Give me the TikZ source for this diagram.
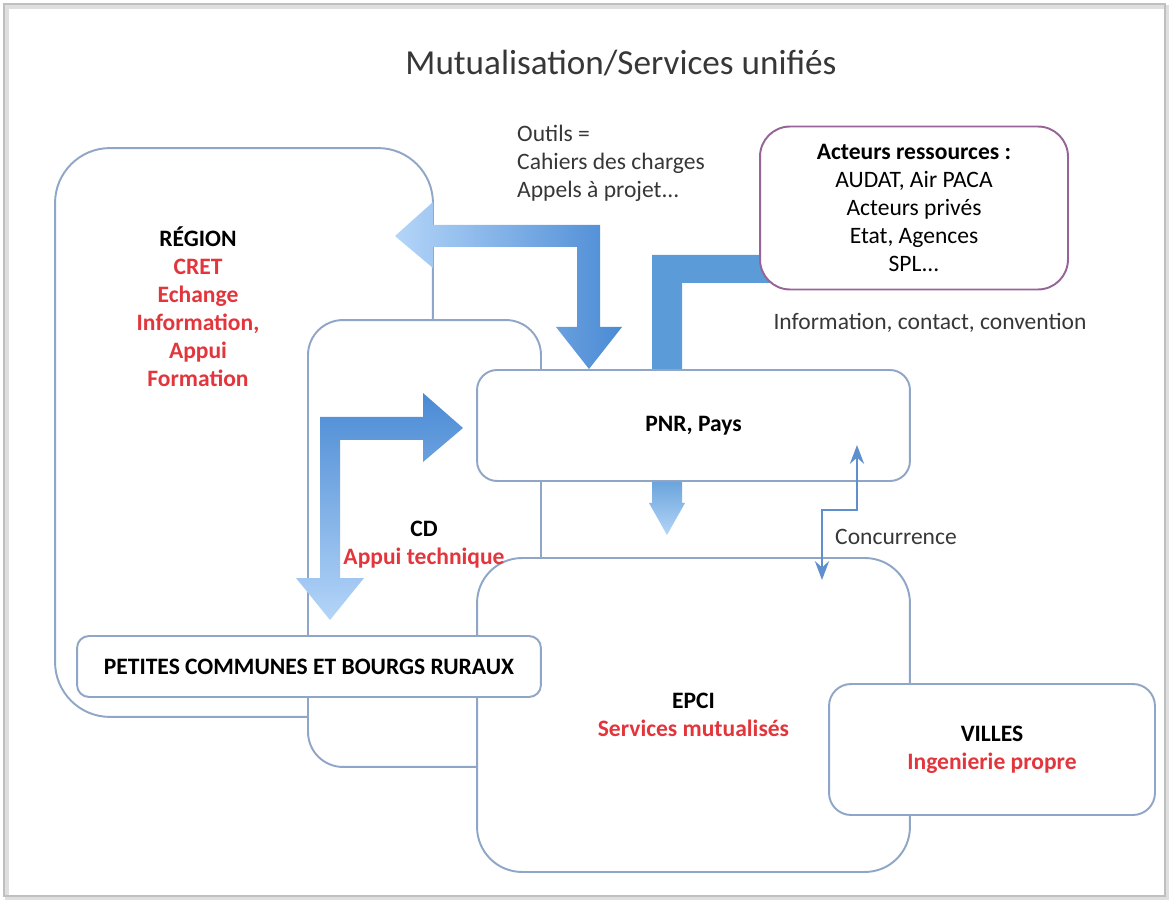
\documentclass[tikz,border=0pt]{standalone}
\usepackage{fontspec}
\setmainfont{Carlito}
\usetikzlibrary{arrows.meta,backgrounds}

\definecolor{boxline}{RGB}{143,166,198}
\definecolor{purpleline}{RGB}{150,100,150}
\definecolor{txtred}{RGB}{226,54,60}
\definecolor{txtgray}{RGB}{55,55,55}
\definecolor{blueLight}{RGB}{180,213,248}
\definecolor{blueDark}{RGB}{74,138,212}
\definecolor{blueMid}{RGB}{91,155,216}
\definecolor{blueLine}{RGB}{95,143,205}

\tikzset{
  box/.style={draw=boxline, fill=white, line width=1.1pt, inner sep=0pt, align=center},
  lbl/.style={align=center, font=\fontsize{13.4}{15.9}\selectfont},
}

\begin{document}
\begin{tikzpicture}[x=0.02cm,y=-0.02cm,>=Stealth]
  \useasboundingbox (0,0) rectangle (1171,902);
  % page frame
  \draw[gray!25, line width=2pt] (7,7) rectangle (1167,898);
  \draw[gray!50, line width=0.6pt] (4,4) rectangle (1165,896);

  \node[txtgray, font=\fontsize{20}{24}\selectfont] (title) at (621,63) {Mutualisation/Services unifiés};

  % boxes, back to front
  \node[box, rounded corners=1.1cm, minimum width=7.56cm, minimum height=11.38cm] (region) at (244,432.5) {};
  \node[box, rounded corners=0.7cm, minimum width=4.66cm, minimum height=8.94cm] (cd) at (424.5,543.5) {};
  \node[box, rounded corners=0.9cm, minimum width=8.66cm, minimum height=6.28cm, lbl] (epci) at (693.5,715) {\textbf{EPCI}\\ \textcolor{txtred}{\textbf{Services mutualisés}}};
  \node[box, rounded corners=0.24cm, minimum width=9.28cm, minimum height=1.22cm, lbl] (petites) at (309,666.5) {\textbf{PETITES COMMUNES ET BOURGS RURAUX}};
  \node[box, rounded corners=0.4cm, minimum width=8.66cm, minimum height=2.22cm, lbl] (pnr) at (693.5,425.5) {\textbf{PNR, Pays}};
  \node[box, rounded corners=0.44cm, minimum width=6.52cm, minimum height=2.62cm, lbl] (villes) at (992,749.5) {\textbf{VILLES}\\ \textcolor{txtred}{\textbf{Ingenierie propre}}};
  \node[box, draw=purpleline, rounded corners=0.6cm, minimum width=6.16cm, minimum height=3.26cm, lbl] (acteurs) at (914,208) {\textbf{Acteurs ressources :}\\ AUDAT, Air PACA\\ Acteurs privés\\ Etat, Agences\\ SPL...};

  % labels
  \node[lbl] (regionlbl) at (198,307) {\textbf{RÉGION}\\ \textcolor{txtred}{\textbf{CRET}}\\ \textcolor{txtred}{\textbf{Echange}}\\ \textcolor{txtred}{\textbf{Information,}}\\ \textcolor{txtred}{\textbf{Appui}}\\ \textcolor{txtred}{\textbf{Formation}}};
  \node[lbl] (cdlbl) at (424,545) {\textbf{CD}\\ \textcolor{txtred}{\textbf{Appui technique}}};
  \node[lbl, txtgray, align=left, anchor=west] (outils) at (511,163) {Outils =\\ Cahiers des charges\\ Appels à projet...};
  \node[lbl, txtgray] (info) at (930,323) {Information, contact, convention};
  \node[lbl, txtgray] (conc) at (896,537) {Concurrence};

  % fat arrows
  \shade[left color=blueLight, right color=blueDark]
    (395,236) -- (433,202) -- (433,225) -- (600,225) -- (600,327) -- (622,327)
    -- (589,369) -- (556,327) -- (577,327) -- (577,247) -- (433,247) -- (433,268) -- cycle;
  \shade[top color=blueDark, bottom color=blueLight]
    (463,428) -- (423,393) -- (423,417) -- (320,417) -- (320,578) -- (296,578)
    -- (330,620) -- (364,578) -- (340,578) -- (340,440) -- (423,440) -- (423,462) -- cycle;
  \shade[top color=blueMid!90, bottom color=blueLight]
    (652,482) -- (682,482) -- (682,503) -- (685,503) -- (667,535) -- (649,503) -- (652,503) -- cycle;
  \begin{pgfonlayer}{background}
    \fill[blueMid] (652,370) -- (652,255) -- (770,255) -- (770,283) -- (682,283) -- (682,370) -- cycle;
  \end{pgfonlayer}

  % concurrence
  \coordinate (cup) at (857,445);
  \coordinate (cdown) at (822,580);
  \draw[blueLine, line width=1.7pt, <->] (cup) -- (857,510) -- (822,510) -- (cdown);
\end{tikzpicture}
\end{document}
